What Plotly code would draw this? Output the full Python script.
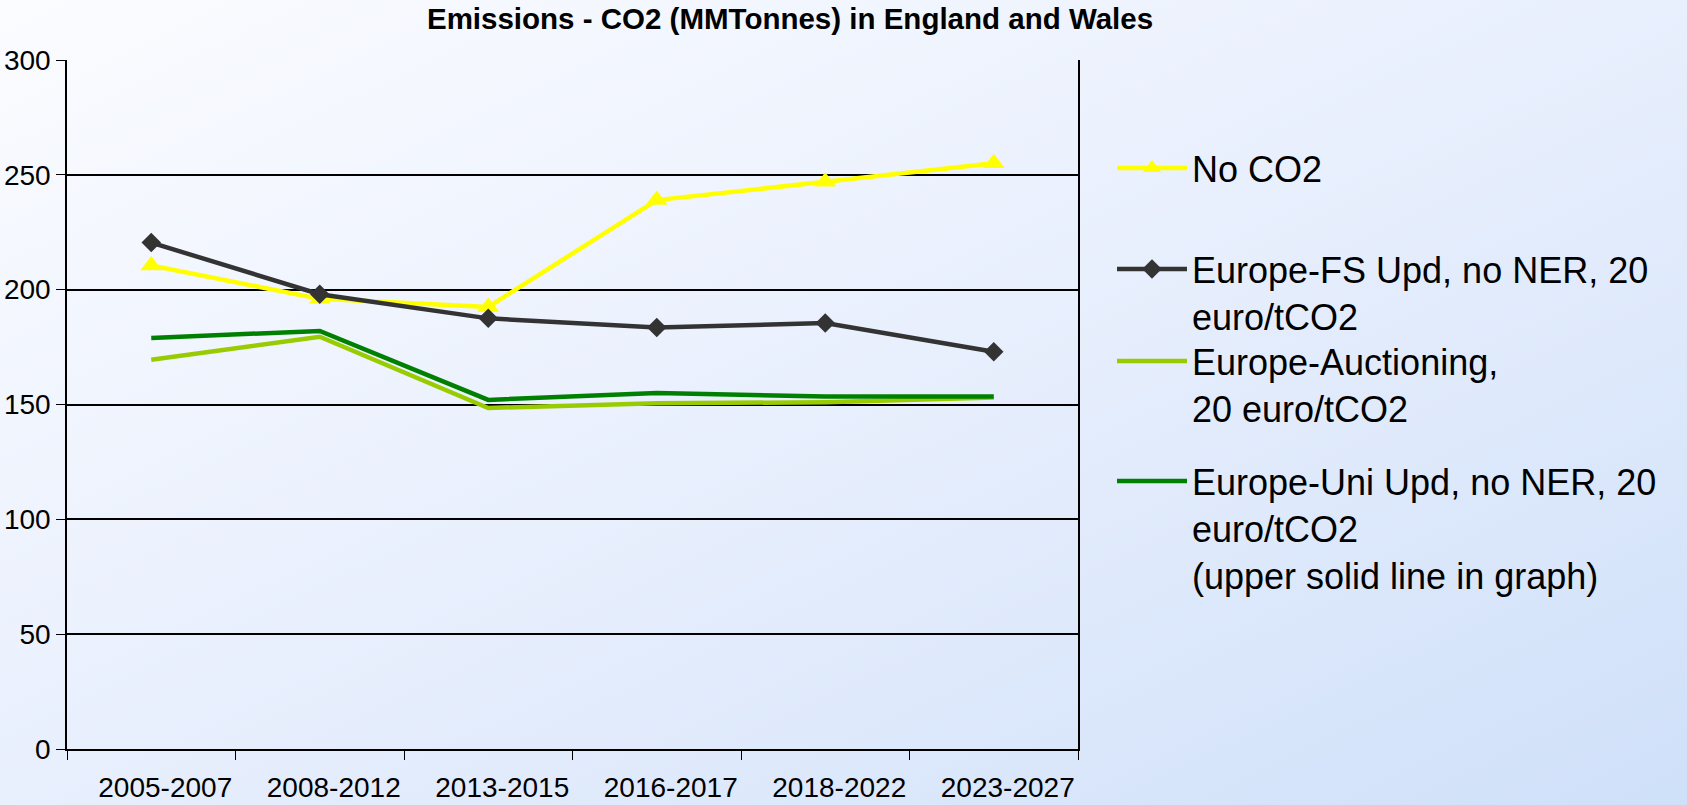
import base64
import plotly.graph_objects as go

# chart data
periods = ["2005-2007", "2008-2012", "2013-2015", "2016-2017", "2018-2022", "2023-2027"]
no_co2 = [210.5, 196, 192.5, 239, 247, 255]
fs_upd = [220.5, 198, 187.5, 183.5, 185.5, 173]
auctioning = [169.5, 179.5, 148.5, 150.5, 151, 153]
uni_upd = [179, 182, 152, 155, 153.5, 153.5]

W, H = 1687, 805
ML, MR, MT, MB = 67, 609, 60, 56
PW, PH = W - ML - MR, H - MT - MB
FONT = "Liberation Sans, Arial, sans-serif"


def paper_x(px):
    """pixel x of the page -> paper x"""
    return (px - ML) / PW


def paper_y(py):
    """pixel y of the page -> paper y"""
    return 1 - (py - MT) / PH


# diagonal background gradient, as an svg image behind the whole figure
svg = (
    f'<svg xmlns="http://www.w3.org/2000/svg" width="{W}" height="{H}" viewBox="0 0 {W} {H}" '
    'preserveAspectRatio="none">'
    '<defs><linearGradient id="g" x1="0" y1="0" x2="1" y2="1">'
    '<stop offset="0" stop-color="#fbfcff"/>'
    '<stop offset="0.5" stop-color="#e8effd"/>'
    '<stop offset="1" stop-color="#cfe0f9"/>'
    '</linearGradient></defs>'
    f'<rect width="{W}" height="{H}" fill="url(#g)"/></svg>'
)
bg_src = "data:image/svg+xml;base64," + base64.b64encode(svg.encode()).decode()

fig = go.Figure()

series = [
    ("No CO2", no_co2, "#ffff00", "triangle-up", "legend"),
    ("Europe-Auctioning,<br>20 euro/tCO2", auctioning, "#99cc00", None, "legend3"),
    ("Europe-Uni Upd, no NER, 20<br>euro/tCO2<br>(upper solid line in graph)", uni_upd, "#008000", None, "legend4"),
    ("Europe-FS Upd, no NER, 20<br>euro/tCO2", fs_upd, "#333333", "diamond", "legend2"),
]
for name, values, color, symbol, legend in series:
    fig.add_trace(go.Scatter(
        x=periods, y=values, name=name, legend=legend,
        mode="lines+markers" if symbol else "lines",
        line={"color": color, "width": 4.5},
        marker={"symbol": symbol or "circle", "size": 19 if symbol == "triangle-up" else 15,
                "color": color},
    ))


def legend_box(top_px):
    return dict(
        x=paper_x(1112), y=paper_y(top_px), xanchor="left", yanchor="top",
        bgcolor="rgba(0,0,0,0)", valign="top", itemwidth=70,
        font={"family": FONT, "size": 36, "color": "#000000"},
    )


fig.update_layout(
    width=W, height=H,
    margin={"l": ML, "r": MR, "t": MT, "b": MB, "autoexpand": False},
    paper_bgcolor="rgba(0,0,0,0)",
    plot_bgcolor="rgba(0,0,0,0)",
    title={
        "text": "<b>Emissions - CO2 (MMTonnes) in England and Wales</b>",
        "font": {"family": FONT, "size": 29.5, "color": "#000000"},
        "x": 790 / W, "xanchor": "center", "xref": "container",
        "y": 1 - 19 / H, "yanchor": "middle", "yref": "container",
    },
    showlegend=True,
    legend=legend_box(138),
    legend2=legend_box(239),
    legend3=legend_box(331),
    legend4=legend_box(451),
    images=[dict(
        source=bg_src, xref="paper", yref="paper",
        x=paper_x(0), y=paper_y(0), sizex=W / PW, sizey=H / PH,
        xanchor="left", yanchor="top", sizing="stretch", layer="below",
    )],
    xaxis=dict(
        type="category", range=[-0.5, 5.5], tickson="boundaries",
        ticks="outside", ticklen=9, tickcolor="#000000", tickwidth=1,
        showgrid=False, showline=True, linecolor="#000000", linewidth=1.5,
        tickfont={"family": FONT, "size": 28, "color": "#000000"},
        ticklabelstandoff=13, ticklabelshift=14, automargin=False,
    ),
    yaxis=dict(
        range=[0, 300], dtick=50, ticks="outside", ticklen=9,
        tickcolor="#000000", tickwidth=1,
        showgrid=True, gridcolor="#000000", gridwidth=1.5,
        showline=True, linecolor="#000000", linewidth=1.5, mirror=True,
        zeroline=False, automargin=False,
        tickfont={"family": FONT, "size": 28, "color": "#000000"},
    ),
    hovermode=False,
)

# the page's default body margin would push the figure 8px down and right
fig.write_html(
    "out.html",
    config={"displayModeBar": False},
    post_script="document.body.style.margin = '0';",
)
